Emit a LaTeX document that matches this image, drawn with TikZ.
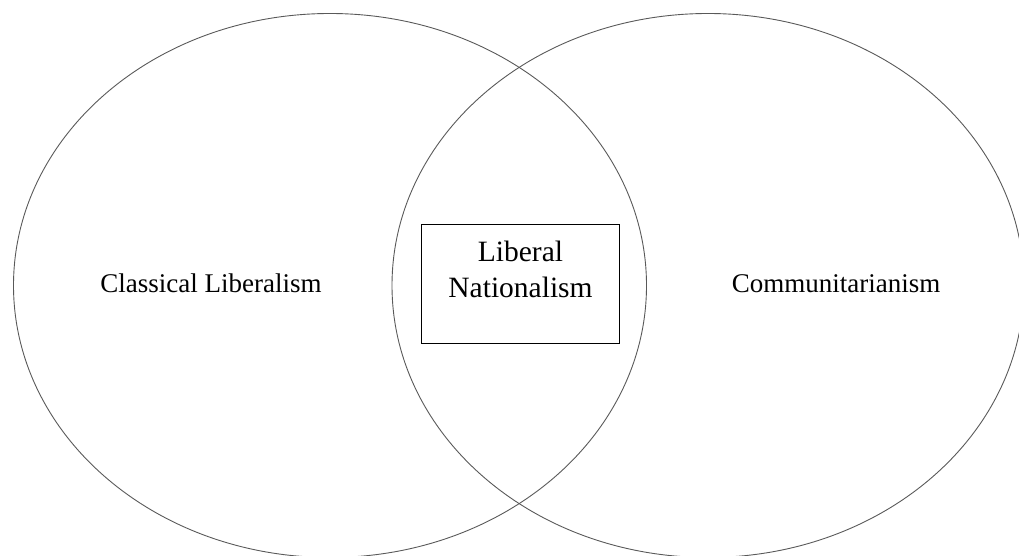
\documentclass[tikz,border=0pt]{standalone}
\usepackage{fontspec}
\setmainfont{Liberation Serif}
\begin{document}
\begin{tikzpicture}[x=1pt,y=1pt,
  circ/.style={draw=black!65, line width=0.9pt},
  side/.style={font=\fontsize{27}{32}\selectfont, inner sep=0pt, anchor=base},
  mid/.style={font=\fontsize{29.5}{36}\selectfont, inner sep=0pt, anchor=base},
  boxstyle/.style={draw=black, line width=0.9pt, minimum width=197.6pt, minimum height=118.6pt, inner sep=0pt}]
\useasboundingbox (0,0) rectangle (1019,556);
\begin{scope}
\clip (0,0) rectangle (1019,556);
\draw[circ] (330,270.5) ellipse [x radius=316.5, y radius=272];
\draw[circ] (708,270.5) ellipse [x radius=316, y radius=272];
\end{scope}
\node[boxstyle] (box) at (520.5,272) {};
\node[mid] (lib) at (520.5,294.3) {Liberal};
\node[mid] (nat) at (520.5,258) {Nationalism};
\node[side] (cl) at (211,263) {Classical Liberalism};
\node[side] (co) at (836,263) {Communitarianism};
\end{tikzpicture}
\end{document}
